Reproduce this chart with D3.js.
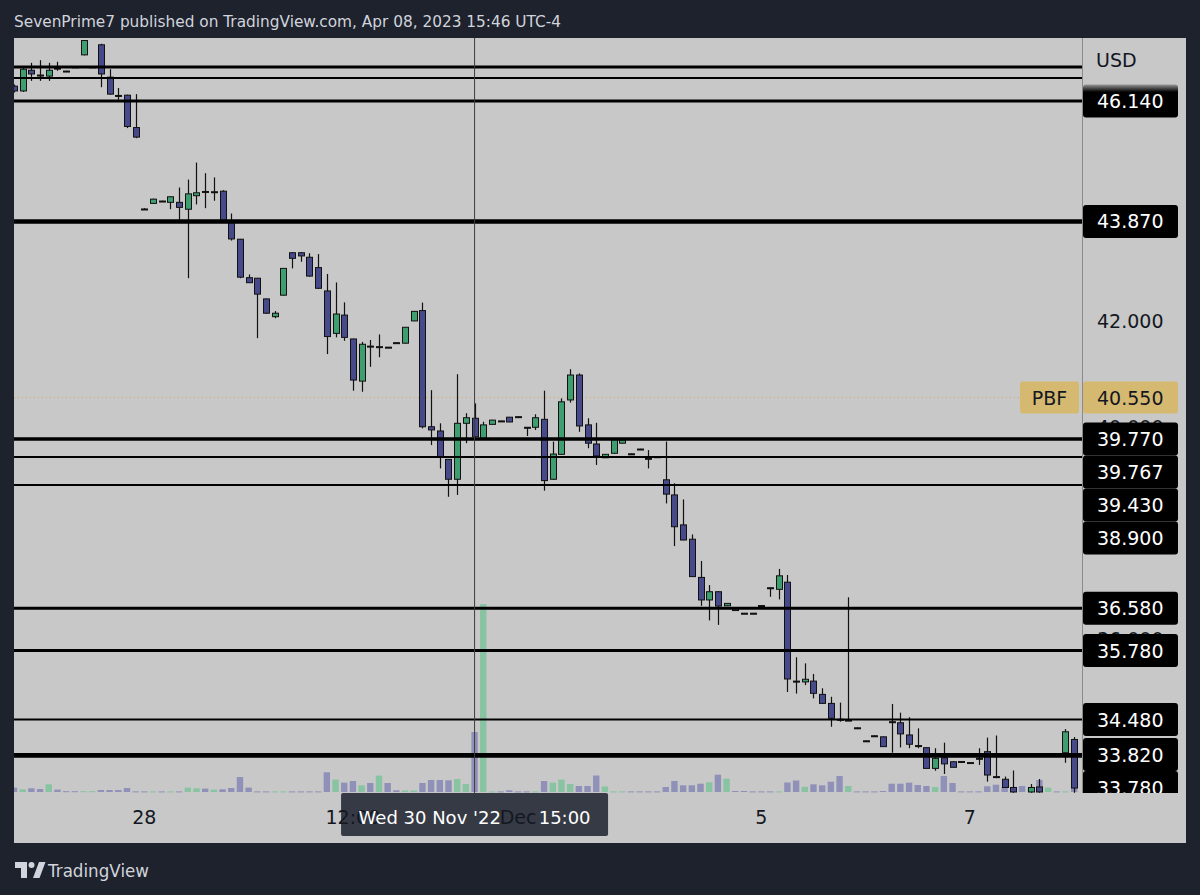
<!DOCTYPE html>
<html><head><meta charset="utf-8">
<script src="https://cdn.jsdelivr.net/npm/d3@7"></script>
<style>html,body{margin:0;padding:0;background:#1e222d;}svg{display:block}</style>
</head><body>
<svg id="c" width="1200" height="895"></svg>
<script>
// ---------- DATA ----------
const opens = [46.42,46.33,46.72,46.63,46.61,46.76,46.705,46.785,47.01,46.775,
47.20,46.59,46.245,46.25,45.64,44.105,44.21,44.255,44.23,44.23,
44.10,44.355,44.435,44.42,44.44,43.865,43.535,42.81,42.80,42.41,
42.075,42.48,43.28,43.28,43.195,43.00,42.56,41.76,42.105,41.655,
40.86,41.52,41.50,41.50,41.585,41.575,41.995,42.19,40.00,39.92,
39.385,39.01,40.065,40.16,39.78,40.045,40.11,40.18,40.19,39.99,
39.99,40.14,39.01,39.48,40.505,40.975,40.035,39.675,39.415,39.50,
39.69,39.49,39.58,39.405,39.435,39.00,38.715,38.15,37.88,37.16,
36.735,36.89,36.625,36.59,36.485,36.485,36.63,36.965,36.935,37.07,
35.205,35.19,35.205,34.955,34.785,34.485,34.46,34.325,34.08,34.175,
34.155,34.44,34.42,34.19,33.99,33.95,33.56,33.76,33.685,33.69,
33.67,33.75,33.875,33.405,33.355,33.20,33.08,33.115,33.21,32.98,
33.02,33.855,34.105];
const highs = [46.45,46.80,46.86,46.91,46.86,46.88,46.71,46.79,47.29,46.79,
47.22,46.74,46.385,46.26,46.27,44.12,44.30,44.26,44.34,44.51,
44.66,44.98,44.78,44.70,44.46,44.02,43.54,42.87,42.805,42.415,
42.18,42.99,43.29,43.29,43.27,43.255,42.88,42.72,42.345,41.66,
41.60,41.635,41.74,41.505,41.59,41.88,42.18,42.34,40.69,40.065,
39.39,40.99,40.255,40.44,40.095,40.13,40.115,40.185,40.195,39.995,
40.235,40.68,39.72,40.535,41.085,41.005,40.16,40.075,39.485,39.765,
39.755,39.495,39.585,39.56,39.44,39.72,38.935,38.63,37.97,37.47,
37.015,36.90,36.675,36.595,36.49,36.49,36.635,36.97,37.32,37.205,
35.655,35.54,35.34,35.07,34.91,34.80,36.785,34.33,34.085,34.18,
34.16,34.775,34.61,34.525,34.315,33.955,33.94,34.045,33.69,33.695,
33.675,33.94,34.14,34.18,33.405,33.52,33.09,33.265,33.36,33.05,
33.06,34.30,34.15];
const lows = [46.30,46.31,46.52,46.52,46.52,46.71,46.69,46.77,47.00,46.77,
46.40,46.26,46.165,45.63,45.44,44.09,44.20,44.24,44.10,43.865,
42.80,44.19,44.12,44.26,43.85,43.51,42.80,42.71,41.67,42.13,
42.045,42.475,42.985,43.11,42.83,42.60,41.37,41.685,41.62,40.68,
40.66,41.13,41.31,41.485,41.57,41.57,41.99,39.97,39.655,39.215,
38.68,38.715,39.69,39.80,39.775,40.04,40.095,40.085,40.175,39.825,
39.94,38.795,39.00,39.47,40.455,39.905,39.595,39.28,39.41,39.495,
39.685,39.475,39.565,39.215,39.42,38.555,37.75,37.86,37.17,36.625,
36.35,36.265,36.62,36.53,36.475,36.47,36.615,36.795,36.745,35.00,
34.97,35.13,34.88,34.78,34.345,34.44,34.455,34.31,34.065,34.16,
33.965,33.855,33.955,33.94,33.94,33.56,33.515,33.455,33.58,33.675,
33.655,33.625,33.31,33.375,33.19,33.10,32.95,33.10,33.10,32.90,
32.95,33.665,33.10];
const closes = [46.33,46.74,46.65,46.61,46.72,46.75,46.695,46.775,47.28,46.785,
46.65,46.27,46.235,45.66,45.46,44.095,44.29,44.245,44.335,44.135,
44.39,44.41,44.425,44.43,43.865,43.54,42.82,42.715,42.50,42.14,
42.14,42.985,43.175,43.22,42.84,42.61,41.70,42.125,41.685,40.88,
41.555,41.51,41.51,41.49,41.575,41.875,42.175,40.00,39.94,39.425,
39.01,40.065,40.17,39.81,40.035,40.125,40.10,40.09,40.18,39.98,
40.17,38.985,39.485,40.47,40.975,40.015,39.69,39.45,39.48,39.76,
39.75,39.48,39.57,39.395,39.425,38.73,38.115,37.865,37.175,36.735,
36.89,36.62,36.67,36.535,36.48,36.475,36.62,36.955,37.19,35.245,
35.195,35.24,34.975,34.785,34.505,34.475,34.47,34.315,34.07,34.165,
33.97,34.43,34.21,34.015,33.98,33.56,33.75,33.645,33.58,33.68,
33.66,33.74,33.435,33.395,33.20,33.115,32.98,33.20,33.115,33.02,
32.99,34.25,33.19];
const volumes = [44,27,37,30,77,24,8,8,8,8,
20,20,20,40,6,6,6,6,6,6,
44,37,34,24,27,40,150,44,6,6,
6,6,6,6,6,6,197,124,94,110,
67,90,164,90,17,15,15,90,120,120,
117,130,80,600,1880,6,6,17,6,6,
6,110,94,124,80,60,60,165,55,6,
6,6,6,6,6,50,110,67,67,83,
97,173,133,10,10,6,6,6,6,95,
115,52,77,67,103,160,60,6,6,6,
10,83,83,93,70,60,50,160,90,6,
6,6,57,73,50,40,60,40,120,43,
6,6,50];
const levels = [46.78, 46.574, 46.14, 43.87, 39.77, 39.767, 39.43, 38.9, 36.58, 35.78, 34.48, 33.82, 33.78];
const labeledLevels = [46.14, 43.87, 39.77, 39.767, 39.43, 38.9, 36.58, 35.78, 34.48, 33.82, 33.78];
const priceTicks = [34, 36, 38, 40, 42, 44, 46];
const timeTickIndex = [15, 39, 58, 86, 110];
const timeTickLabels = ["28", "12:00", "Dec", "5", "7"];
const symbolName = "PBF";
const symbolPrice = 40.55;
const currency = "USD";
const crosshairIndex = 53;
const crosshairDate = "Wed 30 Nov '22";
const crosshairTime = "15:00";
const headerText = "SevenPrime7 published on TradingView.com, Apr 08, 2023 15:46 UTC-4";
const brandText = "TradingView";

// ---------- LAYOUT ----------
const W = 1200, Hh = 895;
const L = 14, T = 38, R = 1082, B = 793, AXR = 1186, BOT = 843;
const FONT = "DejaVu Sans, Noto Sans, sans-serif";
const GRAY = "#c8c8c8", DARK = "#1e222d", TXT = "#131722";
const UPC = "#3f9e70", DNC = "#474a8a";
const VUP = "#88c3a2", VDN = "#9091b8";

const svg = d3.select("#c");
svg.append("rect").attr("width", W).attr("height", Hh).attr("fill", DARK);
svg.append("rect").attr("x", L).attr("y", T).attr("width", AXR - L).attr("height", BOT - T).attr("fill", GRAY);

const defs = svg.append("defs");
defs.append("clipPath").attr("id", "plotClip").append("rect").attr("x", L).attr("y", T).attr("width", R - L).attr("height", B - T);
defs.append("clipPath").attr("id", "axisClip").append("rect").attr("x", R).attr("y", T).attr("width", AXR - R).attr("height", B - T);
const grad = defs.append("linearGradient").attr("id", "fade").attr("x1", 0).attr("y1", 0).attr("x2", 0).attr("y2", 1);
grad.append("stop").attr("offset", "0%").attr("stop-color", GRAY).attr("stop-opacity", 1);
grad.append("stop").attr("offset", "100%").attr("stop-color", GRAY).attr("stop-opacity", 0);

const N = closes.length;
const x = d3.scaleLinear().domain([0, N - 1]).range([L, L + 8.69 * (N - 1)]);
const y = d3.scaleLinear().domain([33.096, 47.328]).range([B, T]);
const yv = d3.scaleLinear().domain([0, 2000]).range([792, 592]);

const bars = d3.range(N).map(i => ({i, o: opens[i], h: highs[i], l: lows[i], c: closes[i], v: volumes[i], up: closes[i] >= opens[i]}));

const plot = svg.append("g").attr("clip-path", "url(#plotClip)");

// volume
plot.append("g").selectAll("rect").data(bars).join("rect")
  .attr("x", d => x(d.i) - 3.2).attr("width", 6.4)
  .attr("y", d => yv(d.v)).attr("height", d => Math.max(1, yv(0) - yv(d.v)))
  .attr("fill", d => d.up ? VUP : VDN);

// dotted symbol price line
plot.append("line").attr("x1", L).attr("x2", R).attr("y1", y(symbolPrice)).attr("y2", y(symbolPrice))
  .attr("stroke", "#dca55e").attr("stroke-width", 1).attr("stroke-dasharray", "1 3");

// wicks
plot.append("g").selectAll("line").data(bars).join("line")
  .attr("x1", d => Math.round(x(d.i)) + 0.5).attr("x2", d => Math.round(x(d.i)) + 0.5)
  .attr("y1", d => y(d.h)).attr("y2", d => y(d.l))
  .attr("stroke", "#111").attr("stroke-width", 1.2);
// bodies
plot.append("g").selectAll("rect").data(bars).join("rect")
  .attr("x", d => Math.round(x(d.i)) - 2.5).attr("width", 6)
  .attr("y", d => y(Math.max(d.o, d.c)))
  .attr("height", d => Math.max(1, Math.abs(y(d.o) - y(d.c))))
  .attr("fill", d => d.up ? UPC : DNC)
  .attr("stroke", "#111").attr("stroke-width", 1);

// horizontal levels
const thick = {"43.87": 4.5, "39.77": 3, "39.767": 3, "46.78": 3, "46.14": 3, "36.58": 3, "35.78": 3, "33.82": 3};
plot.append("g").selectAll("line").data(levels).join("line")
  .attr("x1", L).attr("x2", R + 2)
  .attr("y1", d => y(d)).attr("y2", d => y(d))
  .attr("stroke", "#000").attr("stroke-width", d => thick[String(d)] || 2);

// crosshair
plot.append("line").attr("x1", x(crosshairIndex)).attr("x2", x(crosshairIndex))
  .attr("y1", T).attr("y2", B).attr("stroke", "#3c3c3c").attr("stroke-width", 1);

// separator between plot and price scale
svg.append("line").attr("x1", R + 0.5).attr("x2", R + 0.5).attr("y1", T).attr("y2", B)
  .attr("stroke", "#8a8a8a").attr("stroke-width", 1);

// ---------- PRICE AXIS ----------
const LH = 33;
const sorted = labeledLevels.slice().sort((a, b) => b - a);
let lastBottom = -Infinity;
const placed = sorted.map(p => {
  let cy = y(p);
  if (cy - LH / 2 < lastBottom) cy = lastBottom + LH / 2;
  lastBottom = cy + LH / 2;
  return {p, cy};
});
// merge adjacent label boxes into covered spans
const spans = [];
placed.forEach(d => {
  const t = d.cy - LH / 2, b = d.cy + LH / 2;
  const last = spans[spans.length - 1];
  if (last && t <= last[1] + 0.5) last[1] = Math.max(last[1], b); else spans.push([t, b]);
});
const symY = y(symbolPrice);
spans.push([symY - 16, symY + 16]);
// a tick label fully covered by a price label is not drawn (it is hidden in the chart)
const visibleTicks = priceTicks.filter(t => {
  const top = y(t) - 7, bot = y(t) + 7;
  return !spans.some(s => top >= s[0] && bot <= s[1]);
});

const ax = svg.append("g").attr("clip-path", "url(#axisClip)");
ax.selectAll("text.tick").data(visibleTicks).join("text").attr("class", "tick")
  .attr("x", 1097).attr("y", d => y(d) + 7)
  .attr("font-family", FONT).attr("font-size", 19).attr("fill", TXT)
  .text(d => d3.format(".3f")(d));

ax.selectAll("rect.lbl").data(placed).join("rect").attr("class", "lbl")
  .attr("x", R + 1).attr("width", 95).attr("y", d => d.cy - LH / 2).attr("height", LH)
  .attr("rx", 3).attr("fill", "#000");
ax.selectAll("text.lbl").data(placed).join("text").attr("class", "lbl")
  .attr("x", 1097).attr("y", d => d.cy + 7)
  .attr("font-family", FONT).attr("font-size", 19).attr("fill", "#fff")
  .text(d => d3.format(".3f")(d.p));

// symbol label
svg.append("rect").attr("x", 1020).attr("y", symY - 16).attr("width", 59).attr("height", 32).attr("rx", 3).attr("fill", "#d6b970");
svg.append("text").attr("x", 1049.5).attr("y", symY + 7).attr("text-anchor", "middle")
  .attr("font-family", FONT).attr("font-size", 19).attr("fill", TXT).text(symbolName);
ax.append("rect").attr("x", R + 1).attr("y", symY - 16).attr("width", 95).attr("height", 32).attr("rx", 3).attr("fill", "#d6b970");
ax.append("text").attr("x", 1097).attr("y", symY + 7)
  .attr("font-family", FONT).attr("font-size", 19).attr("fill", TXT).text(d3.format(".3f")(symbolPrice));

// currency header with fade
svg.append("rect").attr("x", R + 1).attr("y", T).attr("width", AXR - R - 1).attr("height", 44).attr("fill", GRAY);
svg.append("rect").attr("x", R + 1).attr("y", T + 44).attr("width", AXR - R - 1).attr("height", 10).attr("fill", "url(#fade)");
svg.append("text").attr("x", 1096).attr("y", 67).attr("font-family", FONT).attr("font-size", 19)
  .attr("fill", TXT).text(currency);

// ---------- TIME AXIS ----------
const cx = x(crosshairIndex);
svg.append("rect").attr("x", cx - 133.5).attr("y", B).attr("width", 267).attr("height", 43)
  .attr("rx", 2).attr("fill", "#363a45");
svg.selectAll("text.time").data(timeTickIndex).join("text").attr("class", "time")
  .attr("x", d => x(d)).attr("y", 824).attr("text-anchor", "middle")
  .attr("font-family", FONT).attr("font-size", 19).attr("fill", TXT)
  .text((d, k) => timeTickLabels[k]);
svg.append("text").attr("x", cx - 116).attr("y", 824).attr("font-family", FONT).attr("font-size", 18)
  .attr("fill", "#fff").text(crosshairDate);
svg.append("text").attr("x", cx + 116).attr("y", 824).attr("text-anchor", "end").attr("font-family", FONT)
  .attr("font-size", 18).attr("fill", "#fff").text(crosshairTime);

// ---------- HEADER / FOOTER ----------
svg.append("text").attr("x", 14).attr("y", 27).attr("font-family", FONT).attr("font-size", 16)
  .attr("fill", "#d1d4dc").attr("textLength", 547).attr("lengthAdjust", "spacingAndGlyphs").text(headerText);
const logo = svg.append("g").attr("fill", "#d1d4dc");
logo.append("path").attr("d", "M15,862 h12 v16 h-6 v-10 h-6 z");
logo.append("circle").attr("cx", 31.5).attr("cy", 865).attr("r", 3);
logo.append("path").attr("d", "M33,878 l6,-16 h6.5 l-6,16 z");
svg.append("text").attr("x", 48).attr("y", 877).attr("font-family", FONT).attr("font-size", 17)
  .attr("fill", "#d1d4dc").attr("textLength", 101).attr("lengthAdjust", "spacingAndGlyphs").text(brandText);
</script>
</body></html>
